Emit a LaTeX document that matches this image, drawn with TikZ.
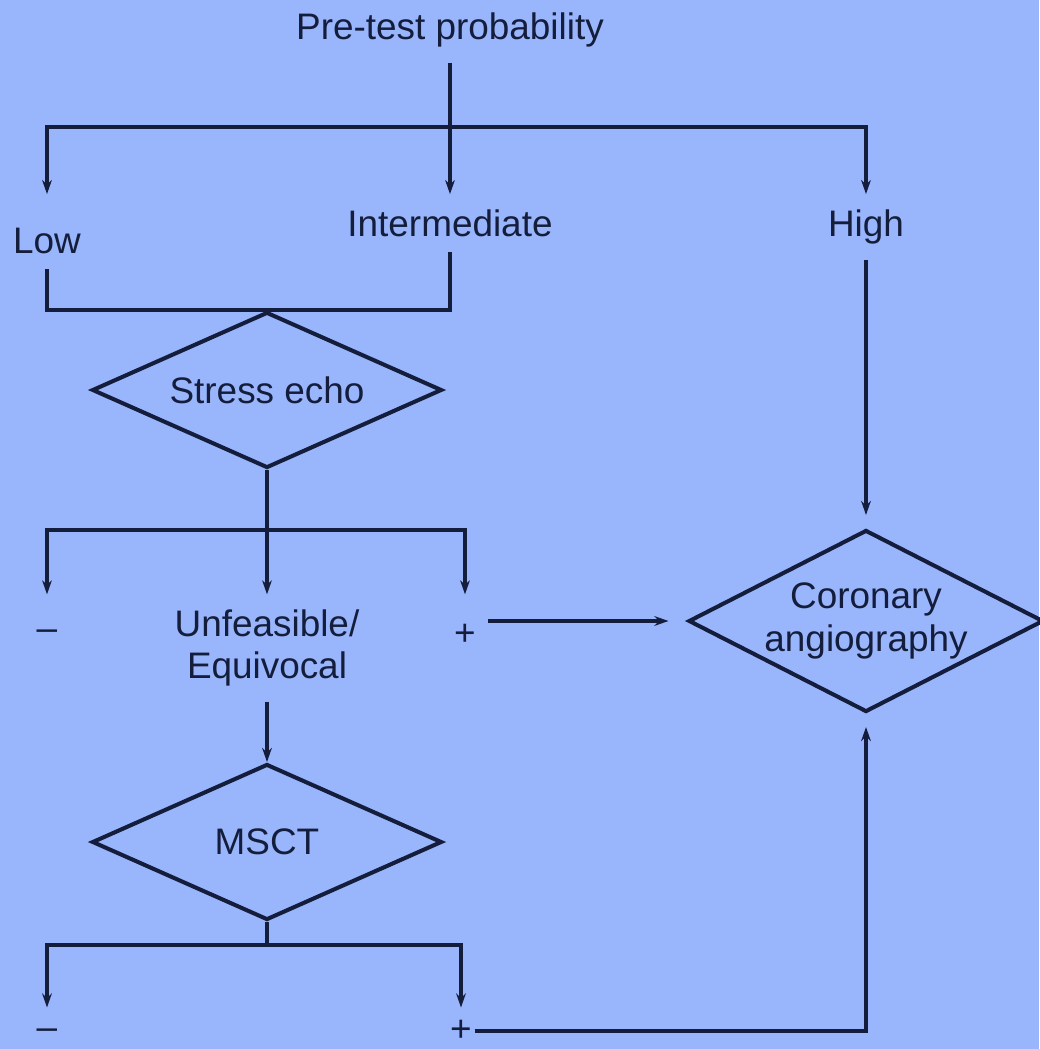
\documentclass[tikz,border=0pt]{standalone}
\usepackage{fontspec}
\setmainfont{Liberation Sans}
\usetikzlibrary{shapes.geometric,arrows.meta}
\definecolor{bgblue}{RGB}{153,181,251}
\definecolor{ink}{RGB}{20,30,60}
\tikzset{
	lbl/.style={inner sep=0.3cm, text=ink, font=\fontsize{21}{24}\selectfont, align=center},
	sgn/.style={inner sep=0.05cm, text=ink, font=\fontsize{21}{24}\selectfont},
	decide/.style={diamond, draw=ink, line width=2.3pt, inner sep=0pt, aspect=2.25, minimum width=7cm, minimum height=3.12cm, text=ink, font=\fontsize{21}{24}\selectfont, align=center},
	wire/.style={draw=ink, line width=1.8pt},
	arr/.style={wire, -{Stealth[length=8pt,width=5.5pt]}},
	twoarr/.style={wire, {Stealth[length=8pt,width=5.5pt]}-{Stealth[length=8pt,width=5.5pt]}}
}

\begin{document}
\begin{tikzpicture}[x=0.02cm, y=-0.02cm]
			%%%%% START %%%%%
			
			\fill[bgblue] (0,0) rectangle (1039,1049);
			\useasboundingbox (0,0) rectangle (1039,1049);
			
			% pre-test split
			\node[lbl] (pre) at (450,30) {Pre-test probability};
			\node[lbl] (low) at (47,241) {Low};
			\node[lbl] (mid) at (450,223) {Intermediate};
			\node[lbl] (high) at (866,227) {High};
			\coordinate (split) at (450,127);
			\draw[arr] (pre.south) -- (mid.north);
			\draw[twoarr] (mid.north -| low) |- (split -| high) -- (mid.north -| high);
			
			% stress echo
			\node[decide] (echo) at (267,390) {Stress echo};
			\draw[wire] (low.south) |- (echo.north) -| (mid.south);
			
			\node[lbl] (equiv) at (267,648) {Unfeasible/\\Equivocal};
			\node[sgn] (neg1) at (47,635) {\textendash};
			\node[sgn] (pos1) at (465,635) {+};
			\coordinate (fork) at (267,530);
			\draw[arr] (echo.south) -- (equiv.north);
			\draw[twoarr] (equiv.north -| neg1) |- (fork -| pos1) -- (equiv.north -| pos1);
			
			% angiography
			\node[decide, aspect=1.95, minimum width=7.1cm, minimum height=3.64cm] (cor) at (866,621) {Coronary\\angiography};
			\draw[arr, shorten >=0.26cm] (high.south) -- (cor.north);
			\draw[arr, shorten <=0.19cm, shorten >=0.36cm] (pos1.east |- cor.west) -- (cor.west);
			
			% msct
			\node[decide] (msct) at (267,842) {MSCT};
			\draw[arr] (equiv.south) -- (msct.north);
			
			\node[sgn] (neg2) at (47,1034) {\textendash};
			\node[sgn] (pos2) at (461,1031) {+};
			\coordinate (fork2) at (267,945);
			\draw[wire] (msct.south) -- (fork2);
			\draw[twoarr, shorten <=0.2cm, shorten >=0.2cm] (pos2.north -| neg2) |- (fork2) -| (pos2.north);
			\draw[arr, shorten >=0.26cm] (pos2.east) -| (cor.south);
			
			%%%%% END %%%%%
\end{tikzpicture}
\end{document}
